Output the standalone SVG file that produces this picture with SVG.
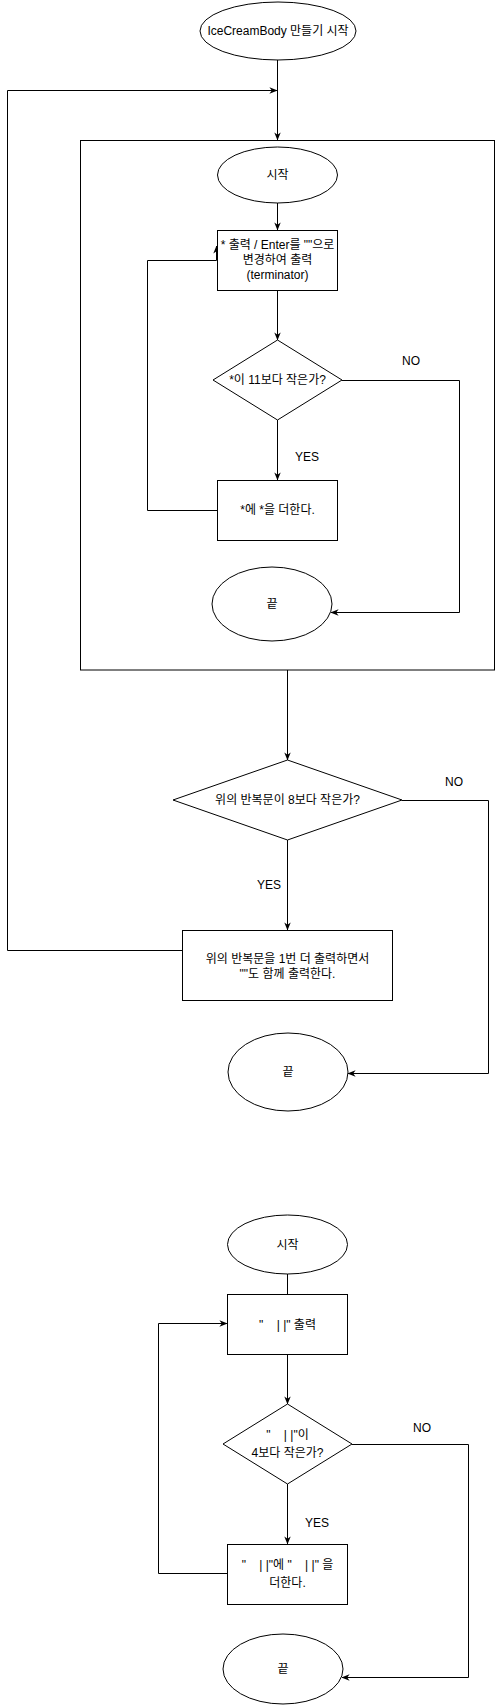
<svg xmlns="http://www.w3.org/2000/svg" width="497" height="1705" viewBox="0 0 497 1705">
<style>
.s{fill:#fff;stroke:#000;stroke-width:1}
.c{fill:none;stroke:#000;stroke-width:1}
text{font-family:"Liberation Sans","Noto Sans CJK KR",Arial,sans-serif;font-size:12px;fill:#000;text-anchor:middle}
</style>
<defs>
<marker id="a" viewBox="0 0 10 10" refX="9.5" refY="5" markerWidth="8" markerHeight="8" orient="auto" markerUnits="userSpaceOnUse">
<path d="M0,1 L10,5 L0,9 L3,5 z" fill="#000"/>
</marker>
</defs>
<rect width="497" height="1705" fill="#fff"/>
<g id="frame"><rect class="s" x="80.5" y="140.5" width="414" height="529.5"/></g>
<g id="connectors">
<path class="c" d="M277.5,60 V140" marker-end="url(#a)"/>
<path class="c" d="M182,950.5 H7.5 V90.5 H277" marker-end="url(#a)"/>
<path class="c" d="M277.5,203 V230" marker-end="url(#a)"/>
<path class="c" d="M277.5,290 V340" marker-end="url(#a)"/>
<path class="c" d="M277.5,420 V480" marker-end="url(#a)"/>
<path class="c" d="M342,380.5 H459.5 V612.5 H331" marker-end="url(#a)"/>
<path class="c" d="M217,510.5 H147.5 V260.5 H216.5 V246" marker-end="url(#a)"/>
<path class="c" d="M287.5,670 V760" marker-end="url(#a)"/>
<path class="c" d="M287.5,840 V930" marker-end="url(#a)"/>
<path class="c" d="M402,800.5 H488.5 V1073.5 H348" marker-end="url(#a)"/>
<path class="c" d="M287.5,1274 V1294"/>
<path class="c" d="M287.5,1354 V1404" marker-end="url(#a)"/>
<path class="c" d="M287.5,1484 V1544" marker-end="url(#a)"/>
<path class="c" d="M352,1444.5 H468.5 V1677.5 H342" marker-end="url(#a)"/>
<path class="c" d="M227,1573.5 H158.5 V1323.5 H227" marker-end="url(#a)"/>
</g>
<g id="n-start-main"><ellipse class="s" cx="278" cy="31" rx="78" ry="29"/><text x="278" y="35">IceCreamBody 만들기 시작</text></g>
<g id="n-start1"><ellipse class="s" cx="277.5" cy="175" rx="60" ry="28"/><text x="277.5" y="179">시작</text></g>
<g id="n-box1"><rect class="s" x="217.5" y="230.5" width="120" height="60"/><text x="277.5" y="249">* 출력 / Enter를 ""으로</text><text x="277.5" y="264">변경하여 출력</text><text x="277.5" y="279">(terminator)</text></g>
<g id="n-dia1"><path class="s" d="M277.5,340 L342,380 L277.5,420 L213,380 Z"/><text x="277.5" y="384">*이 11보다 작은가?</text></g>
<g id="n-box2"><rect class="s" x="217.5" y="480.5" width="120" height="60"/><text x="277.5" y="514">*에 *을 더한다.</text></g>
<g id="n-end1"><ellipse class="s" cx="272" cy="604" rx="60" ry="37"/><text x="272" y="608">끝</text></g>
<g id="n-dia2"><path class="s" d="M287.5,760 L402,800 L287.5,840 L173,800 Z"/><text x="287.5" y="804">위의 반복문이 8보다 작은가?</text></g>
<g id="n-box3"><rect class="s" x="182.5" y="930.5" width="210" height="70"/><text x="287.5" y="963">위의 반복문을 1번 더 출력하면서</text><text x="287.5" y="978">""도 함께 출력한다.</text></g>
<g id="n-end2"><ellipse class="s" cx="288" cy="1072" rx="60" ry="39"/><text x="288" y="1076">끝</text></g>
<g id="n-start2"><ellipse class="s" cx="287.5" cy="1244.5" rx="60" ry="29.5"/><text x="287.5" y="1249">시작</text></g>
<g id="n-box4"><rect class="s" x="227.5" y="1294.5" width="120" height="60"/><text x="287.5" y="1329" xml:space="preserve">"    | |" 출력</text></g>
<g id="n-dia3"><path class="s" d="M287.5,1404 L352,1444 L287.5,1484 L223,1444 Z"/><text x="287.5" y="1439" xml:space="preserve">"    | |"이</text><text x="287.5" y="1457">4보다 작은가?</text></g>
<g id="n-box5"><rect class="s" x="227.5" y="1544.5" width="120" height="60"/><text x="287.5" y="1569" xml:space="preserve">"    | |"에 "    | |" 을</text><text x="287.5" y="1587">더한다.</text></g>
<g id="n-end3"><ellipse class="s" cx="283" cy="1669" rx="60" ry="35"/><text x="283" y="1673">끝</text></g>
<g id="labels">
<text x="411" y="365">NO</text>
<text x="307" y="461">YES</text>
<text x="454" y="786">NO</text>
<text x="269" y="889">YES</text>
<text x="422" y="1432">NO</text>
<text x="317" y="1527">YES</text>
</g>
</svg>
